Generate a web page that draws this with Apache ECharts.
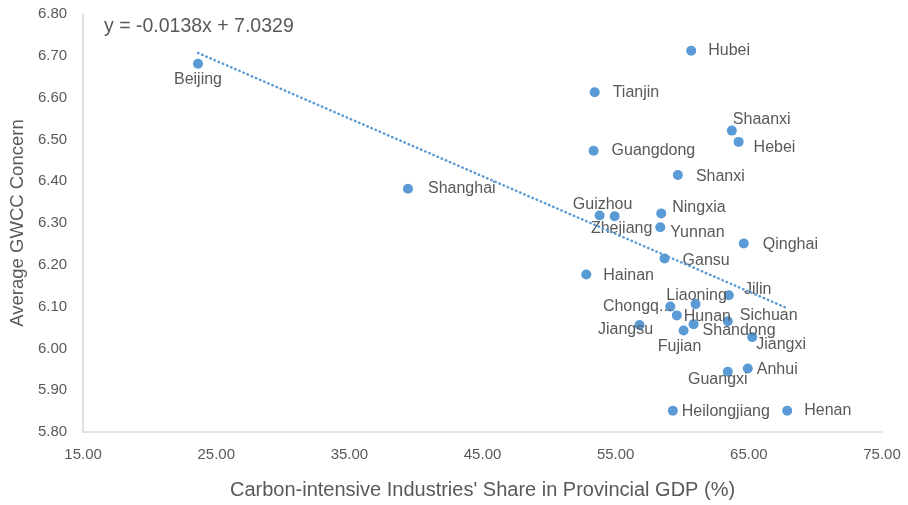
<!DOCTYPE html>
<html>
<head>
<meta charset="utf-8">
<script src="https://cdn.jsdelivr.net/npm/echarts@6/dist/echarts.min.js"></script>
<style>
  html, body { margin: 0; padding: 0; background: #fff; }
  #chart { width: 908px; height: 505px; }
</style>
</head>
<body>
<div id="chart"></div>
<script>
// Provinces and their values
const provinces = ['Beijing', 'Shanghai', 'Hubei', 'Tianjin', 'Shaanxi', 'Hebei', 'Guangdong',
  'Shanxi', 'Guizhou', 'Zhejiang', 'Ningxia', 'Yunnan', 'Qinghai', 'Gansu', 'Hainan', 'Jilin',
  'Liaoning', 'Chongqing', 'Hunan', 'Sichuan', 'Jiangsu', 'Shandong', 'Fujian', 'Jiangxi',
  'Anhui', 'Guangxi', 'Heilongjiang', 'Henan'];
// Carbon-intensive industries' share in provincial GDP (%)
const carbonShare = [23.63, 39.40, 60.67, 53.42, 63.72, 64.23, 53.34,
  59.67, 53.79, 54.92, 58.42, 58.35, 64.62, 58.67, 52.79, 63.50,
  61.00, 59.10, 59.59, 63.42, 56.79, 60.85, 60.10, 65.25,
  64.92, 63.42, 59.29, 67.88];
// Average GWCC concern
const gwccConcern = [6.681, 6.382, 6.712, 6.613, 6.521, 6.494, 6.473,
  6.415, 6.318, 6.316, 6.323, 6.290, 6.251, 6.215, 6.177, 6.127,
  6.106, 6.100, 6.079, 6.065, 6.056, 6.058, 6.043, 6.027,
  5.952, 5.944, 5.851, 5.851];

// Linear trend: y = slope * x + intercept
const trendSlope = -0.0138;
const trendIntercept = 7.0329;

const xTicks = { min: 15, max: 75, interval: 10 };
const yTicks = { min: 5.8, max: 6.8, interval: 0.1 };

// Label placement around each marker: [align, dx, dy]
const labelPlacement = {
  Beijing: ['center', 0, 16], Shanghai: ['left', 20, 0], Hubei: ['left', 17, 0],
  Tianjin: ['left', 18, 0], Shaanxi: ['left', 1, -11], Hebei: ['left', 15, 6],
  Guangdong: ['left', 18, 0], Shanxi: ['left', 18, 2], Guizhou: ['center', 3, -11],
  Zhejiang: ['center', 7, 12], Ningxia: ['left', 11, -6], Yunnan: ['left', 10, 5],
  Qinghai: ['left', 19, 1], Gansu: ['left', 18, 2], Hainan: ['left', 17, 1],
  Jilin: ['left', 15, -6], Liaoning: ['center', 1, -8], Chongqing: ['right', 2, 0],
  Hunan: ['left', 7, 1], Sichuan: ['left', 12, -6], Jiangsu: ['center', -14, 5],
  Shandong: ['left', 9, 6], Fujian: ['center', -4, 16], Jiangxi: ['left', 4, 7],
  Anhui: ['left', 9, 1], Guangxi: ['center', -10, 8], Heilongjiang: ['left', 9, 1],
  Henan: ['left', 17, 0]
};

const textColor = '#595959';
const pointColor = '#5B9BD5';
const fontFamily = '"Liberation Sans", Arial, sans-serif';

const points = provinces.map((name, i) => {
  const p = labelPlacement[name] || ['left', 12, 0];
  const label = { align: p[0], offset: [p[1], p[2]] };
  if (name === 'Chongqing') {
    label.width = 72;
    label.overflow = 'truncate';
    label.ellipsis = '...';
  }
  return { name: name, value: [carbonShare[i], gwccConcern[i]], label: label };
});

const xMinData = Math.min(...carbonShare);
const xMaxData = Math.max(...carbonShare);
const trendData = [xMinData, xMaxData].map(x => [x, trendSlope * x + trendIntercept]);

const chart = echarts.init(document.getElementById('chart'), null, { renderer: 'canvas' });
chart.setOption({
  animation: false,
  backgroundColor: '#ffffff',
  textStyle: { fontFamily: fontFamily },
  grid: { left: 83, right: 26, top: 14, bottom: 72 },
  graphic: [{
    type: 'text',
    left: 104,
    top: 17,
    style: {
      text: 'y = -0.0138x + 7.0329',
      fontSize: 19.5,
      fontFamily: fontFamily,
      fill: textColor
    }
  }],
  xAxis: {
    type: 'value',
    min: xTicks.min,
    max: xTicks.max,
    interval: xTicks.interval,
    name: "Carbon-intensive Industries' Share in Provincial GDP (%)",
    nameLocation: 'middle',
    nameGap: 48,
    nameTextStyle: { fontSize: 20, color: textColor, fontFamily: fontFamily },
    axisLine: { show: true, lineStyle: { color: '#D9D9D9', width: 1.5 } },
    axisTick: { show: false },
    splitLine: { show: false },
    axisLabel: {
      color: textColor, fontSize: 15, margin: 15, fontFamily: fontFamily,
      formatter: v => v.toFixed(2)
    }
  },
  yAxis: {
    type: 'value',
    min: yTicks.min,
    max: yTicks.max,
    interval: yTicks.interval,
    name: 'Average GWCC Concern',
    nameLocation: 'middle',
    nameRotate: 90,
    nameGap: 56,
    nameTextStyle: { fontSize: 18.5, color: textColor, fontFamily: fontFamily },
    axisLine: { show: true, lineStyle: { color: '#D9D9D9', width: 1.5 } },
    axisTick: { show: false },
    splitLine: { show: false },
    axisLabel: {
      color: textColor, fontSize: 15, margin: 16, fontFamily: fontFamily,
      formatter: v => v.toFixed(2)
    }
  },
  series: [
    {
      type: 'scatter',
      symbolSize: 10,
      itemStyle: { color: pointColor, opacity: 1 },
      data: points,
      label: {
        show: true,
        position: 'inside',
        verticalAlign: 'middle',
        formatter: '{b}',
        color: textColor,
        fontSize: 16,
        fontFamily: fontFamily
      },
      z: 2
    },
    {
      type: 'line',
      data: trendData,
      symbol: 'none',
      silent: true,
      lineStyle: { color: pointColor, width: 2.5, type: [0.5, 4], cap: 'round' },
      z: 3
    }
  ]
});
</script>
</body>
</html>
